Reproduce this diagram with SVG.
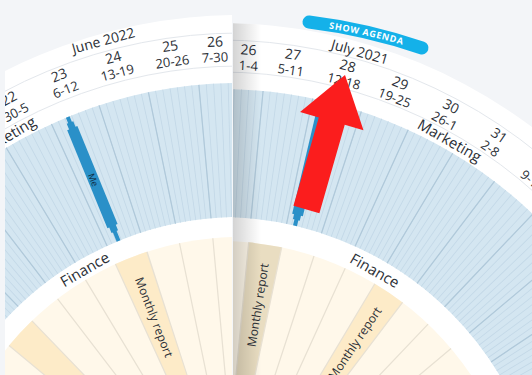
<svg xmlns="http://www.w3.org/2000/svg" width="532" height="375" viewBox="0 0 532 375">
<style>
text{font-family:"Open Sans","Liberation Sans",sans-serif;fill:#2b2f36}
.mo{font-size:14px}
.wk{font-size:14px}
.dt{font-size:13px}
.lb{font-size:15px}
.mr{font-size:12px}
.me{font-size:9px;fill:#0f2d44}
.ring{fill:none;stroke:#e3e7ec;stroke-width:1}
.blue{fill:none;stroke:#d4e6f1}
.day{fill:none;stroke:#c3d8e7}
.wkl{fill:none;stroke:#b0c9da}
.cl{fill:none;stroke:#e8e1d3}
.hl{fill:none;stroke:#fdebc8}
.bar{fill:#2a90c8}
</style>
<defs>
<clipPath id="clipL"><rect x="5" y="0" width="227" height="375"/></clipPath>
<clipPath id="clipR"><rect x="233" y="0" width="299" height="375"/></clipPath>
<clipPath id="diskR"><circle cx="220" cy="543" r="520"/></clipPath>
<linearGradient id="sh" x1="0" x2="1" y1="0" y2="0">
<stop offset="0" stop-color="#000" stop-opacity="0.17"/>
<stop offset="1" stop-color="#000" stop-opacity="0"/>
</linearGradient>
<path id="btnText" d="M306,25.5 Q366,32.5 425,51.5"/>
</defs>
<rect width="532" height="375" fill="#f3f5f8"/>

<g id="left-wheel" clip-path="url(#clipL)">
<circle cx="240" cy="537" r="522" fill="#fff"/>
<circle class="ring" cx="240" cy="537" r="504"/>
<circle class="ring" cx="240" cy="537" r="471"/>
<circle class="blue" cx="240" cy="537" r="387" stroke-width="134"/>
<circle class="day" cx="240" cy="537" r="387" stroke-width="134" pathLength="360" stroke-dasharray="0.12 0.8014" stroke-dashoffset="-264.74"/>
<circle class="wkl" cx="240" cy="537" r="387" stroke-width="134" pathLength="360" stroke-dasharray="0.18 6.27" stroke-dashoffset="-264.71"/>
<circle cx="240" cy="537" r="300" fill="#fff8ea"/>
<circle class="hl" cx="240" cy="537" r="225" stroke-width="150" pathLength="360" stroke-dasharray="6.45 19.35" stroke-dashoffset="-219.65"/>
<circle class="cl" cx="240" cy="537" r="225" stroke-width="150" pathLength="360" stroke-dasharray="0.32 6.13" stroke-dashoffset="-264.64"/>

<g id="left-labels" text-anchor="middle">
<text class="mo" x="240" y="27" transform="rotate(-15.4 240 537)">June 2022</text>
<text class="wk" x="240" y="46" transform="rotate(-27.8 240 537)">22</text>
<text class="wk" x="240" y="46" transform="rotate(-21.4 240 537)">23</text>
<text class="wk" x="240" y="46" transform="rotate(-14.8 240 537)">24</text>
<text class="wk" x="240" y="46" transform="rotate(-8.1 240 537)">25</text>
<text class="wk" x="240" y="46" transform="rotate(-2.9 240 537)">26</text>
<text class="dt" x="240" y="61.5" transform="rotate(-27.8 240 537)">30-5</text>
<text class="dt" x="240" y="61.5" transform="rotate(-21.3 240 537)">6-12</text>
<text class="dt" x="240" y="61.5" transform="rotate(-14.8 240 537)">13-19</text>
<text class="dt" x="240" y="61.5" transform="rotate(-8.1 240 537)">20-26</text>
<text class="dt" x="240" y="61.5" transform="rotate(-3.0 240 537)">7-30</text>
<text class="lb" x="240" y="79" transform="rotate(-30.6 240 537)">Marketing</text>
<text class="lb" x="240" y="233" transform="rotate(-30.1 240 537)">Finance</text>
<text class="mr" x="240" y="301" dominant-baseline="central" transform="rotate(-21.3 240 537) rotate(90 240 301)">Monthly report</text>
</g>

<g id="left-me" transform="rotate(-22.3 240 537)">
<rect class="bar" x="238" y="83" width="4" height="134"/>
<rect class="bar" x="236.5" y="89" width="7" height="118"/>
<rect class="bar" x="234.5" y="95" width="11" height="106"/>
<text class="me" x="240" y="151" text-anchor="middle" dominant-baseline="central" transform="rotate(90 240 151)">Me</text>
</g>
</g>

<g id="right-wheel" clip-path="url(#clipR)">
<circle cx="220" cy="543" r="520" fill="#fff"/>
<circle class="ring" cx="220" cy="543" r="503"/>
<circle class="ring" cx="220" cy="543" r="471"/>
<circle class="blue" cx="220" cy="543" r="390" stroke-width="128"/>
<circle class="day" cx="220" cy="543" r="390" stroke-width="128" pathLength="360" stroke-dasharray="0.12 0.7871" stroke-dashoffset="-281.74"/>
<circle class="wkl" cx="220" cy="543" r="390" stroke-width="128" pathLength="360" stroke-dasharray="0.18 6.17" stroke-dashoffset="-281.71"/>
<circle cx="220" cy="543" r="302" fill="#fff8ea"/>
<circle cx="220" cy="543" r="227" fill="none" stroke="#e9ddc1" stroke-width="150" pathLength="360" stroke-dasharray="6.35 353.65" stroke-dashoffset="-275.45"/>
<circle class="hl" cx="220" cy="543" r="227" stroke-width="150" pathLength="360" stroke-dasharray="6.35 353.65" stroke-dashoffset="-300.85"/>
<circle class="cl" cx="220" cy="543" r="227" stroke-width="150" pathLength="360" stroke-dasharray="0.32 6.03" stroke-dashoffset="-281.64"/>

<g id="right-labels" text-anchor="middle">
<text class="mo" x="220" y="37.4" transform="rotate(15.9 220 543)">July 2021</text>
<text class="wk" x="220" y="54" transform="rotate(3.3 220 543)">26</text>
<text class="wk" x="220" y="54" transform="rotate(8.5 220 543)">27</text>
<text class="wk" x="220" y="54" transform="rotate(15.0 220 543)">28</text>
<text class="wk" x="220" y="54" transform="rotate(21.4 220 543)">29</text>
<text class="wk" x="220" y="54" transform="rotate(27.9 220 543)">30</text>
<text class="wk" x="220" y="54" transform="rotate(34.4 220 543)">31</text>
<text class="dt" x="220" y="69.5" transform="rotate(3.4 220 543)">1-4</text>
<text class="dt" x="220" y="69.5" transform="rotate(8.5 220 543)">5-11</text>
<text class="dt" x="220" y="69.5" transform="rotate(15.0 220 543)">12-18</text>
<text class="dt" x="220" y="69.5" transform="rotate(21.4 220 543)">19-25</text>
<text class="dt" x="220" y="69.5" transform="rotate(28.0 220 543)">26-1</text>
<text class="dt" x="220" y="69.5" transform="rotate(34.4 220 543)">2-8</text>
<text class="dt" x="220" y="69.5" transform="rotate(40.8 220 543)">9-15</text>
<text class="lb" x="220" y="85" transform="rotate(29.7 220 543)">Marketing</text>
<text class="lb" x="220" y="235" transform="rotate(29.6 220 543)">Finance</text>
<text class="mr" x="220" y="302" dominant-baseline="central" transform="rotate(9.0 220 543) rotate(-90 220 302)">Monthly report</text>
<text class="mr" x="220" y="302" dominant-baseline="central" transform="rotate(34.0 220 543) rotate(-90 220 302)">Monthly report</text>
</g>

<g id="right-me" transform="rotate(13.3 220 543)">
<rect class="bar" x="218" y="89" width="4" height="128"/>
<rect class="bar" x="216.5" y="95" width="7" height="116"/>
<rect class="bar" x="214.5" y="100" width="11" height="106"/>
</g>

<rect x="233" y="0" width="28" height="375" fill="url(#sh)" clip-path="url(#diskR)"/>
</g>

<g id="show-agenda">
<path d="M309,22 Q366,29 422,48" fill="none" stroke="#14b1e9" stroke-width="13" stroke-linecap="round"/>
<text font-size="9" font-weight="700" letter-spacing="0.7" style="fill:#fff"><textPath href="#btnText" startOffset="50%" text-anchor="middle">SHOW AGENDA</textPath></text>
</g>

<g id="connectors">
<polygon transform="translate(345 75) rotate(16)" points="0,0 33,48 13.5,48 13.5,140 -13.5,140 -13.5,48 -33,48" fill="#fb1d1d"/>
</g>
</svg>
